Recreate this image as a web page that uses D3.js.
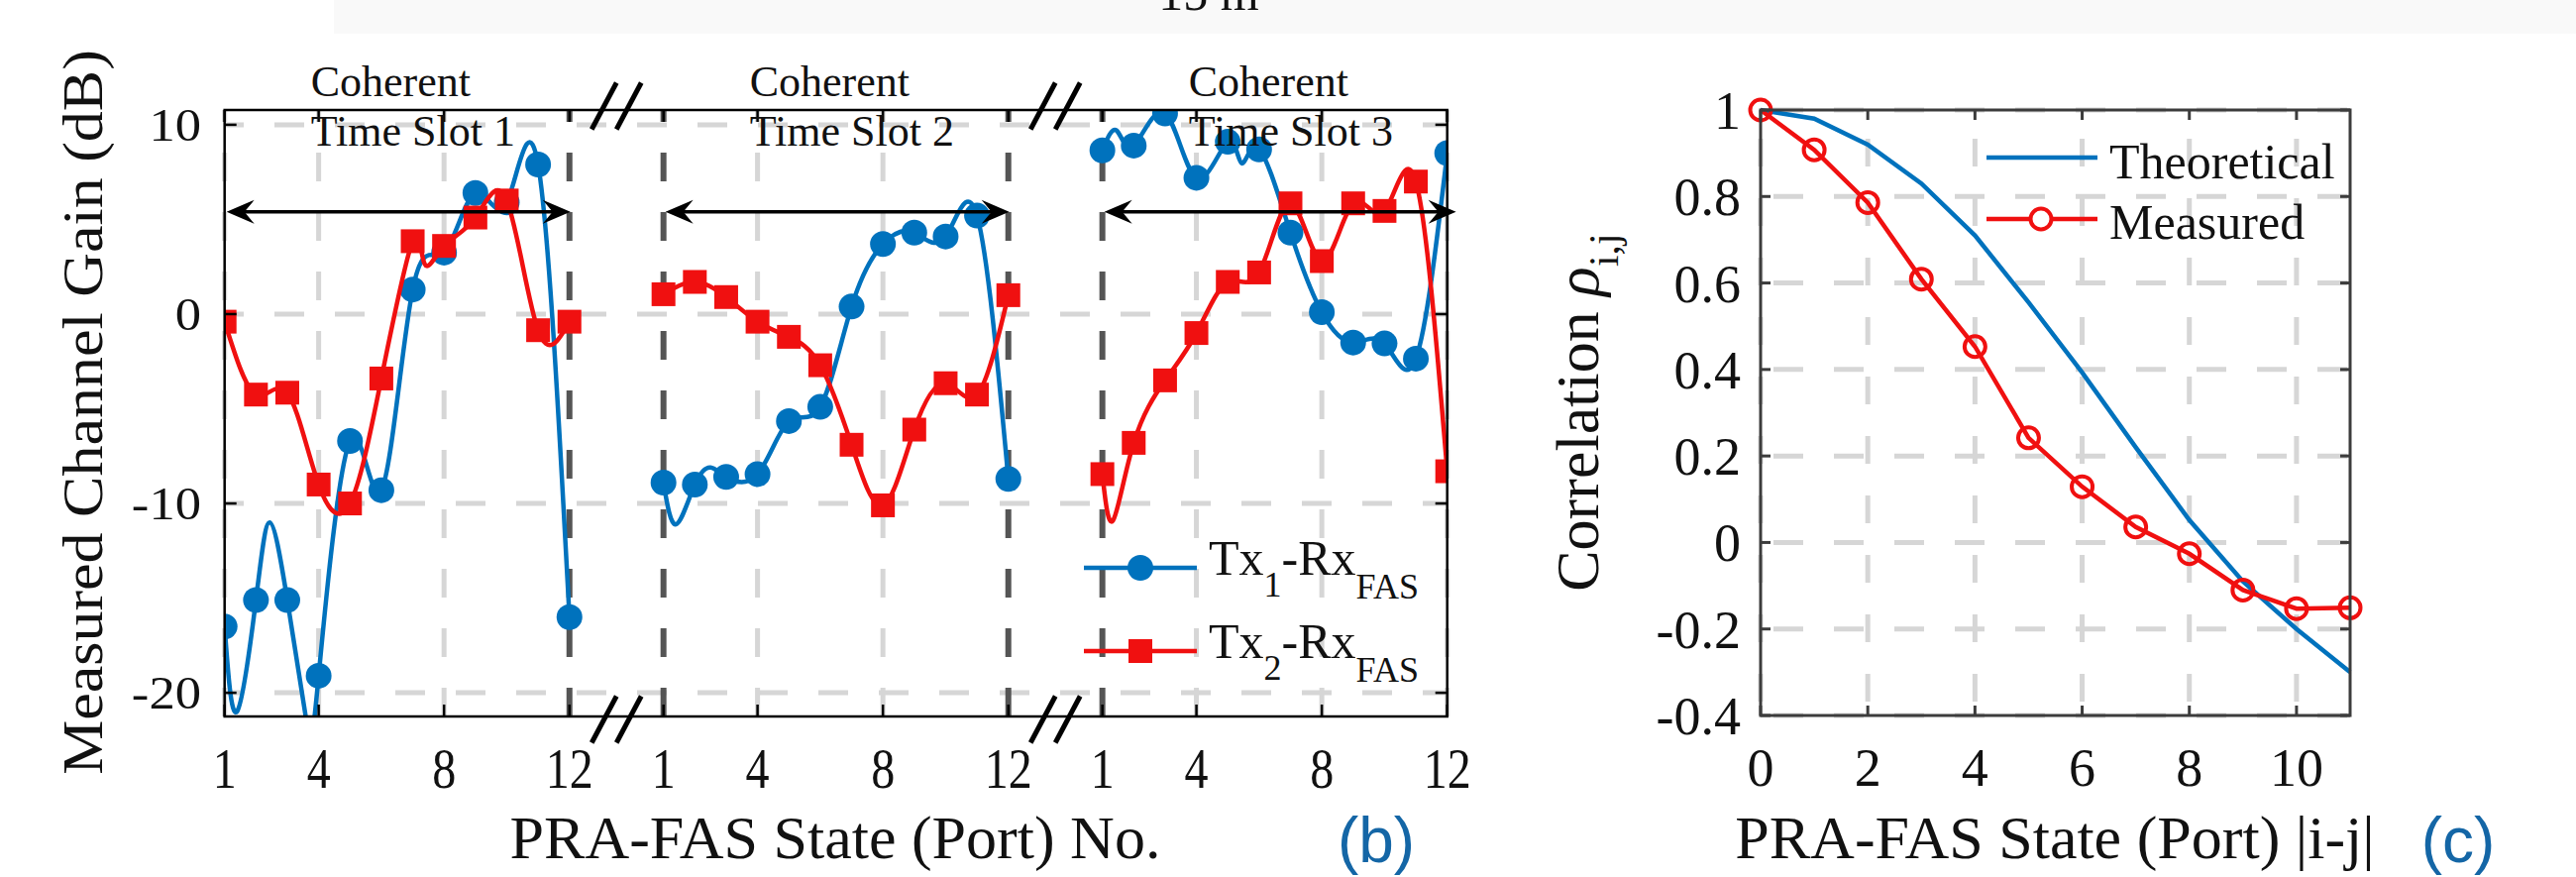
<!DOCTYPE html>
<html><head><meta charset="utf-8">
<script src="https://cdn.jsdelivr.net/npm/d3@7/dist/d3.min.js"></script>
<style>html,body{margin:0;padding:0;background:#fff;} svg{display:block;}</style>
</head><body>
<svg id="chart" width="2600" height="885"></svg>
<script>
// ---------------- data ----------------
const topTitle = "15 m";
const slotNames = ["Time Slot 1", "Time Slot 2", "Time Slot 3"];
const ports = [1, 2, 3, 4, 5, 6, 7, 8, 9, 10, 11, 12];
const portTicks = [1, 4, 8, 12];
const gainTicks = [-20, -10, 0, 10];

// marker values (dB) per coherent time slot
const tx1Slot1 = [-16.5, -15.1, -15.1, -19.1, -6.7, -9.3, 1.3, 3.25, 6.4, 5.9, 7.9, -16.0];
const tx1Slot2 = [-8.9, -9.0, -8.6, -8.45, -5.65, -4.9, 0.4, 3.7, 4.3, 4.1, 5.2, -8.7];
const tx1Slot3 = [8.65, 8.9, 10.6, 7.2, 9.1, 8.7, 4.3, 0.1, -1.5, -1.55, -2.35, 8.5];

const tx2Slot1 = [-0.4, -4.25, -4.15, -9.0, -10.0, -3.4, 3.85, 3.6, 5.1, 6.0, -0.85, -0.4];
const tx2Slot2 = [1.05, 1.7, 0.9, -0.4, -1.2, -2.7, -6.9, -10.1, -6.1, -3.65, -4.25, 1.0];
const tx2Slot3 = [-8.45, -6.8, -3.5, -1.0, 1.7, 2.2, 5.85, 2.8, 5.85, 5.45, 7.0, -8.3];

// extra turning points of the drawn curves between ports: [port, dB]
const tx1Slot1Bends = [[1.39, -21.0], [2.44, -11.0], [3.63, -21.7]];
const tx1Slot2Bends = [[1.4, -11.1], [2.5, -8.1]];
const tx1Slot3Bends = [[1.45, 9.7], [5.45, 7.96]];
const tx2Slot1Bends = [[7.38, 2.65]];
const tx2Slot2Bends = [];
const tx2Slot3Bends = [[1.34, -10.9]];

const coherentArrowGain = 5.4;

const corrLags = [0, 1, 2, 3, 4, 5, 6, 7, 8, 9, 10, 11];
const corrTheory = [1, 0.98, 0.92, 0.83, 0.71, 0.555, 0.393, 0.22, 0.052, -0.09, -0.2, -0.3];
const corrMeasured = [1, 0.908, 0.786, 0.609, 0.453, 0.242, 0.129, 0.036, -0.026, -0.11, -0.153, -0.151];
const corrXTicks = [0, 2, 4, 6, 8, 10];
const corrYTicks = [-0.4, -0.2, 0, 0.2, 0.4, 0.6, 0.8, 1];
const seriesNamesC = ["Theoretical", "Measured"];

// ---------------- styling ----------------
const SERIF = "'Liberation Serif','Times New Roman',serif";
const SANS = "'Liberation Sans',Arial,sans-serif";
const BLUE = "#0072BD";
const RED = "#f01010";
const LIGHTGRID = "#d6d6d6";
const DARKGRID = "#555555";

const svg = d3.select("#chart");
svg.append("rect").attr("width", 2600).attr("height", 885).attr("fill", "#fff");
svg.append("rect").attr("x", 337).attr("y", 0).attr("width", 2263).attr("height", 34).attr("fill", "#f9f9f9");
svg.append("text").attr("x", 1220).attr("y", 10).attr("text-anchor", "middle")
  .attr("font-family", SERIF).attr("font-size", 50).attr("fill", "#111").text(topTitle);

// =============== panel (b) ===============
const bBox = {left: 226.7, right: 1460.7, top: 111, bottom: 723};
const slotStride = ports.length + 2;
const xB = d3.scaleLinear().domain([0, (slotNames.length - 1) * slotStride + ports.length - 1]).range([bBox.left, bBox.right]);
const yB = d3.scaleLinear().domain([-21.25, 10.78]).range([bBox.bottom, bBox.top]);
const gx = (s, p) => xB(s * slotStride + p - 1);

const gB = svg.append("g");
svg.append("defs").append("clipPath").attr("id", "clipB").append("rect")
  .attr("x", bBox.left).attr("y", bBox.top).attr("width", bBox.right - bBox.left).attr("height", bBox.bottom - bBox.top);

// horizontal grid
gainTicks.forEach(v => {
  gB.append("line").attr("x1", bBox.left).attr("x2", bBox.right).attr("y1", yB(v)).attr("y2", yB(v))
    .attr("stroke", LIGHTGRID).attr("stroke-width", 5).attr("stroke-dasharray", "30,31").attr("stroke-dashoffset", 10.7);
});
// vertical grid
slotNames.forEach((nm, s) => {
  portTicks.forEach(p => {
    const inner = (p === 12 && s < slotNames.length - 1) || (p === 1 && s > 0);
    gB.append("line").attr("x1", gx(s, p)).attr("x2", gx(s, p)).attr("y1", bBox.bottom).attr("y2", bBox.top)
      .attr("stroke", inner ? DARKGRID : LIGHTGRID).attr("stroke-width", inner ? 6 : 5)
      .attr("stroke-dasharray", "29,31");
  });
});

// data
const lineB = d3.line().x(d => d[0]).y(d => d[1]).curve(d3.curveNatural);
const tx1 = [tx1Slot1, tx1Slot2, tx1Slot3];
const tx2 = [tx2Slot1, tx2Slot2, tx2Slot3];
const tx1Bends = [tx1Slot1Bends, tx1Slot2Bends, tx1Slot3Bends];
const tx2Bends = [tx2Slot1Bends, tx2Slot2Bends, tx2Slot3Bends];
const dataG = gB.append("g").attr("clip-path", "url(#clipB)");
[[tx1, tx1Bends, BLUE, "circle"], [tx2, tx2Bends, RED, "square"]].forEach(([series, bends, col, mk]) => {
  series.forEach((vals, s) => {
    const curve = ports.map((p, i) => [p, vals[i]]).concat(bends[s])
      .sort((a, b) => a[0] - b[0]).map(([p, v]) => [gx(s, p), yB(v)]);
    dataG.append("path").attr("d", lineB(curve)).attr("fill", "none").attr("stroke", col).attr("stroke-width", 4.5);
    vals.forEach((v, i) => {
      const px = gx(s, ports[i]), py = yB(v);
      if (mk === "circle") dataG.append("circle").attr("cx", px).attr("cy", py).attr("r", 13).attr("fill", col);
      else dataG.append("rect").attr("x", px - 12).attr("y", py - 12).attr("width", 24).attr("height", 24).attr("fill", col);
    });
  });
});

// axes box
gB.append("rect").attr("x", bBox.left).attr("y", bBox.top).attr("width", bBox.right - bBox.left).attr("height", bBox.bottom - bBox.top)
  .attr("fill", "none").attr("stroke", "#000").attr("stroke-width", 2.5);
// ticks
slotNames.forEach((nm, s) => {
  portTicks.forEach(p => {
    const x = gx(s, p);
    gB.append("line").attr("x1", x).attr("x2", x).attr("y1", bBox.bottom).attr("y2", bBox.bottom - 12).attr("stroke", "#000").attr("stroke-width", 2.5);
    gB.append("line").attr("x1", x).attr("x2", x).attr("y1", bBox.top).attr("y2", bBox.top + 12).attr("stroke", "#000").attr("stroke-width", 2.5);
    gB.append("text").attr("transform", `translate(${x},795) scale(1,1.17)`).attr("text-anchor", "middle")
      .attr("font-family", SERIF).attr("font-size", 48).attr("fill", "#111").text(p);
  });
});
gainTicks.forEach(v => {
  const y = yB(v);
  gB.append("line").attr("x1", bBox.left).attr("x2", bBox.left + 12).attr("y1", y).attr("y2", y).attr("stroke", "#000").attr("stroke-width", 2.5);
  gB.append("line").attr("x1", bBox.right).attr("x2", bBox.right - 12).attr("y1", y).attr("y2", y).attr("stroke", "#000").attr("stroke-width", 2.5);
  gB.append("text").attr("transform", `translate(203,${y + 16}) scale(1.12,1)`).attr("text-anchor", "end")
    .attr("font-family", SERIF).attr("font-size", 47).attr("fill", "#111").text(v);
});

// axis break marks
for (let s = 0; s < slotNames.length - 1; s++) {
  const cx = (gx(s, 12) + gx(s + 1, 1)) / 2;
  [bBox.bottom + 3, bBox.top - 4].forEach(cy => {
    [-12.5, 12.5].forEach(off => {
      gB.append("line").attr("x1", cx + off - 12.5).attr("y1", cy + 23.5).attr("x2", cx + off + 12.5).attr("y2", cy - 23.5)
        .attr("stroke", "#000").attr("stroke-width", 5);
    });
  });
}

// coherent time slot arrows + text
function arrowHead(g, tipX, y, dir) {
  const L = 28, W = 12, N = 10;
  const p = [[tipX, y], [tipX + dir * L, y - W], [tipX + dir * (L - N), y], [tipX + dir * L, y + W]];
  g.append("path").attr("d", "M" + p.map(q => q.join(",")).join("L") + "Z").attr("fill", "#000");
}
slotNames.forEach((nm, s) => {
  const y = yB(coherentArrowGain);
  const x1 = gx(s, 1) + 2, x2 = gx(s, s === slotNames.length - 1 ? 12.25 : 12) + 1;
  gB.append("line").attr("x1", x1 + 10).attr("x2", x2 - 10).attr("y1", y).attr("y2", y).attr("stroke", "#000").attr("stroke-width", 3.5);
  arrowHead(gB, x1, y, 1);
  arrowHead(gB, x2, y, -1);
  const tx = gx(s, 3.75);
  gB.append("text").attr("x", tx).attr("y", 97).attr("font-family", SERIF).attr("font-size", 44).attr("fill", "#111").text("Coherent");
  gB.append("text").attr("x", tx).attr("y", 147).attr("font-family", SERIF).attr("font-size", 44).attr("fill", "#111").text(nm);
});

// legend (b)
[[BLUE, "circle", 573, "1"], [RED, "square", 657, "2"]].forEach(([col, mk, y, k]) => {
  gB.append("line").attr("x1", 1094).attr("x2", 1208).attr("y1", y).attr("y2", y).attr("stroke", col).attr("stroke-width", 4.5);
  if (mk === "circle") gB.append("circle").attr("cx", 1151).attr("cy", y).attr("r", 13).attr("fill", col);
  else gB.append("rect").attr("x", 1139).attr("y", y - 12).attr("width", 24).attr("height", 24).attr("fill", col);
  const t = gB.append("text").attr("x", 1220).attr("y", y + 7).attr("font-family", SERIF).attr("font-size", 50).attr("fill", "#111");
  t.append("tspan").text("Tx");
  t.append("tspan").attr("font-size", 36).attr("dy", 22).text(k);
  t.append("tspan").attr("dy", -22).text("-Rx");
  t.append("tspan").attr("font-size", 36).attr("dy", 24).text("FAS");
});

// labels (b)
svg.append("text").attr("transform", "translate(103,416) rotate(-90) scale(1,0.92)").attr("text-anchor", "middle")
  .attr("font-family", SERIF).attr("font-size", 62).attr("fill", "#111").text("Measured Channel Gain (dB)");
svg.append("text").attr("x", 843).attr("y", 866).attr("text-anchor", "middle")
  .attr("font-family", SERIF).attr("font-size", 62).attr("fill", "#111").text("PRA-FAS State (Port) No.");
svg.append("text").attr("x", 1389).attr("y", 870).attr("text-anchor", "middle")
  .attr("font-family", SANS).attr("font-size", 64).attr("fill", "#1466a6").text("(b)");

// =============== panel (c) ===============
const cBox = {left: 1777, right: 2372, top: 111, bottom: 722};
const xC = d3.scaleLinear().domain([0, 11]).range([cBox.left, cBox.right]);
const yC = d3.scaleLinear().domain([-0.4, 1]).range([cBox.bottom, cBox.top]);
const gC = svg.append("g");
const AX = "#3c3c3c";

corrYTicks.forEach(v => {
  gC.append("line").attr("x1", cBox.left).attr("x2", cBox.right).attr("y1", yC(v)).attr("y2", yC(v))
    .attr("stroke", LIGHTGRID).attr("stroke-width", 5).attr("stroke-dasharray", "30,31").attr("stroke-dashoffset", 48);
});
corrXTicks.forEach(v => {
  gC.append("line").attr("x1", xC(v)).attr("x2", xC(v)).attr("y1", cBox.top).attr("y2", cBox.bottom)
    .attr("stroke", LIGHTGRID).attr("stroke-width", 5).attr("stroke-dasharray", "28,32").attr("stroke-dashoffset", 31);
});

const lineC = d3.line().x((d, i) => xC(corrLags[i])).y(d => yC(d));
gC.append("path").attr("d", lineC(corrTheory)).attr("fill", "none").attr("stroke", BLUE).attr("stroke-width", 4.5);
gC.append("path").attr("d", lineC(corrMeasured)).attr("fill", "none").attr("stroke", RED).attr("stroke-width", 4.5);
corrMeasured.forEach((v, i) => {
  gC.append("circle").attr("cx", xC(corrLags[i])).attr("cy", yC(v)).attr("r", 10.5)
    .attr("fill", "none").attr("stroke", RED).attr("stroke-width", 4);
});

gC.append("rect").attr("x", cBox.left).attr("y", cBox.top).attr("width", cBox.right - cBox.left).attr("height", cBox.bottom - cBox.top)
  .attr("fill", "none").attr("stroke", AX).attr("stroke-width", 3);
corrXTicks.forEach(v => {
  const x = xC(v);
  gC.append("line").attr("x1", x).attr("x2", x).attr("y1", cBox.bottom).attr("y2", cBox.bottom - 10).attr("stroke", AX).attr("stroke-width", 3);
  gC.append("line").attr("x1", x).attr("x2", x).attr("y1", cBox.top).attr("y2", cBox.top + 10).attr("stroke", AX).attr("stroke-width", 3);
  gC.append("text").attr("x", x).attr("y", 793).attr("text-anchor", "middle")
    .attr("font-family", SERIF).attr("font-size", 54).attr("fill", "#111").text(v);
});
corrYTicks.forEach(v => {
  const y = yC(v);
  gC.append("line").attr("x1", cBox.left).attr("x2", cBox.left + 10).attr("y1", y).attr("y2", y).attr("stroke", AX).attr("stroke-width", 3);
  gC.append("line").attr("x1", cBox.right).attr("x2", cBox.right - 10).attr("y1", y).attr("y2", y).attr("stroke", AX).attr("stroke-width", 3);
  gC.append("text").attr("x", 1757).attr("y", y + 19).attr("text-anchor", "end")
    .attr("font-family", SERIF).attr("font-size", 54).attr("fill", "#111").text(v);
});

// legend (c)
[[BLUE, false, 159, seriesNamesC[0], 180], [RED, true, 221, seriesNamesC[1], 241]].forEach(([col, mk, y, name, by]) => {
  gC.append("line").attr("x1", 2005).attr("x2", 2117).attr("y1", y).attr("y2", y).attr("stroke", col).attr("stroke-width", 4.5);
  if (mk) gC.append("circle").attr("cx", 2060).attr("cy", y).attr("r", 10.5).attr("fill", "#fff").attr("stroke", col).attr("stroke-width", 4);
  gC.append("text").attr("x", 2129).attr("y", by).attr("font-family", SERIF).attr("font-size", 50).attr("fill", "#111").text(name);
});

// labels (c)
const yl = svg.append("text").attr("transform", "translate(1613,416) rotate(-90)").attr("text-anchor", "middle")
  .attr("font-family", SERIF).attr("font-size", 62).attr("fill", "#111");
yl.append("tspan").text("Correlation ");
yl.append("tspan").attr("font-style", "italic").text("ρ");
yl.append("tspan").attr("font-size", 42).attr("dy", 20).text("i,j");
svg.append("text").attr("x", 2074).attr("y", 866).attr("text-anchor", "middle")
  .attr("font-family", SERIF).attr("font-size", 62).attr("fill", "#111").text("PRA-FAS State (Port) |i-j|");
svg.append("text").attr("x", 2481).attr("y", 870).attr("text-anchor", "middle")
  .attr("font-family", SANS).attr("font-size", 64).attr("fill", "#1466a6").text("(c)");
</script>
</body></html>
